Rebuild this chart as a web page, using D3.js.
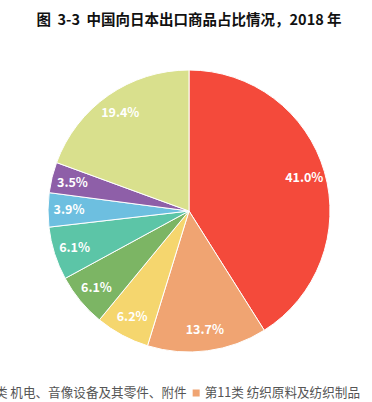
<!DOCTYPE html>
<html><head><meta charset="utf-8">
<script src="https://cdn.jsdelivr.net/npm/d3@7"></script>
<style>html,body{margin:0;padding:0;background:#fff;overflow:hidden}</style>
</head><body>
<svg id="c" width="372" height="402"></svg>
<script>
const titleText = "图  3-3  中国向日本出口商品占比情况，2018 年";
const categories = ["第16类 机电、音像设备及其零件、附件","第11类 纺织原料及纺织制品","类别3","类别4","类别5","类别6","类别7","其他"];
const values = [41.0, 13.7, 6.2, 6.1, 6.1, 3.9, 3.5, 19.4];
const colors = ["#f44a3b","#f0a472","#f5d66e","#7cb564","#5cc5a7","#6dbfe0","#8e5fa8","#d9e08d"];
const legendShown = [0, 1];

const svg = d3.select("#c");
const cx = 189, cy = 211, r = 141, lr = 120;
const font = "'Noto Sans CJK SC','Noto Sans',sans-serif";

svg.append("text").attr("x", 189).attr("y", 25).attr("text-anchor","middle")
  .attr("font-family", font).attr("font-weight","bold").attr("font-size",14.5).attr("fill","#111")
  .attr("xml:space","preserve").text(titleText);

const pie = d3.pie().sort(null).value(d => d);
const arcs = pie(values);
const arc = d3.arc().innerRadius(0).outerRadius(r);
const labelArc = d3.arc().innerRadius(lr).outerRadius(lr);
const g = svg.append("g").attr("transform", `translate(${cx},${cy})`);
g.selectAll("path").data(arcs).join("path")
  .attr("d", arc).attr("fill", (d,i) => colors[i]).attr("stroke","#fff").attr("stroke-width",1);
g.selectAll("text").data(arcs).join("text")
  .attr("transform", d => `translate(${labelArc.centroid(d)})`)
  .attr("text-anchor","middle").attr("dy","0.35em")
  .attr("font-family", font).attr("font-weight","bold").attr("font-size",12.5).attr("fill","#fff")
  .text(d => d.value.toFixed(1) + "%");

// legend (first row, overflowing left edge as in the reference)
const lg = svg.append("g");
const ly = 393, fs = 12.6;
const t2 = lg.append("text").attr("x", 360).attr("y", ly).attr("dy","0.35em").attr("text-anchor","end")
  .attr("font-family", font).attr("font-size",fs).attr("fill","#555").text(categories[legendShown[1]]);
const w2 = t2.node().getComputedTextLength();
const s2x = 360 - w2 - 5 - 7;
lg.append("rect").attr("x", s2x).attr("y", ly - 3.5).attr("width",7).attr("height",7).attr("fill", colors[legendShown[1]]);
const t1 = lg.append("text").attr("x", s2x - 6).attr("y", ly).attr("dy","0.35em").attr("text-anchor","end")
  .attr("font-family", font).attr("font-size",fs).attr("fill","#555").text(categories[legendShown[0]]);
const w1 = t1.node().getComputedTextLength();
lg.append("rect").attr("x", s2x - 6 - w1 - 12).attr("y", ly - 3.5).attr("width",7).attr("height",7).attr("fill", colors[legendShown[0]]);
</script>
</body></html>
